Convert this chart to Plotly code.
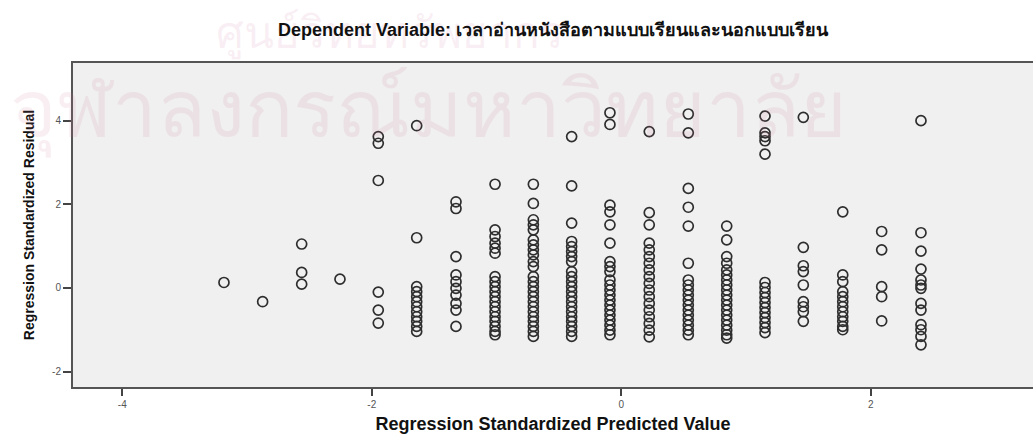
import plotly.graph_objects as go

# Discrete predicted-value columns (x) and residuals read per column
pred_x = [-3.185, -2.875, -2.562, -2.255, -1.948, -1.640, -1.325, -1.012, -0.705,
          -0.398, -0.091, 0.224, 0.537, 0.845, 1.152, 1.459, 1.775, 2.087, 2.402]

res_c01 = [0.13]
res_c02 = [-0.33]
res_c03 = [1.05, 0.37, 0.09]
res_c04 = [0.21]
res_c05 = [3.62, 3.46, 2.57, -0.10, -0.53, -0.84]
res_c06 = [3.88, 1.20, 0.03, -0.09, -0.21, -0.33, -0.45, -0.57, -0.69, -0.80, -0.92, -1.04]
res_c07 = [2.06, 1.90, 0.75, 0.31, 0.15, -0.01, -0.17, -0.37, -0.53, -0.92]
res_c08 = [2.48, 1.39, 1.23, 1.07, 0.95, 0.83, 0.27, 0.15, 0.03, -0.09, -0.21, -0.33,
           -0.45, -0.57, -0.69, -0.80, -0.92, -1.04, -1.12]
res_c09 = [2.48, 2.02, 1.63, 1.51, 1.39, 1.15, 1.03, 0.91, 0.79, 0.63, 0.51, 0.27, 0.15,
           0.03, -0.09, -0.21, -0.33, -0.45, -0.57, -0.69, -0.80, -0.92, -1.04, -1.16]
res_c10 = [3.62, 2.44, 1.55, 1.11, 0.99, 0.87, 0.75, 0.63, 0.39, 0.27, 0.15, 0.03, -0.09,
           -0.21, -0.33, -0.45, -0.57, -0.69, -0.80, -0.92, -1.04, -1.16]
res_c11 = [4.19, 3.91, 1.98, 1.82, 1.51, 1.07, 0.63, 0.51, 0.39, 0.19, 0.07, -0.05, -0.17,
           -0.29, -0.41, -0.53, -0.65, -0.77, -0.89, -1.01, -1.12]
res_c12 = [3.74, 1.80, 1.51, 1.07, 0.91, 0.75, 0.59, 0.43, 0.27, 0.11, -0.05, -0.21,
           -0.37, -0.53, -0.69, -0.85, -1.01, -1.17]
res_c13 = [4.16, 3.71, 2.38, 1.93, 1.48, 0.59, 0.19, 0.07, -0.05, -0.17, -0.29, -0.41,
           -0.53, -0.65, -0.77, -0.89, -1.01, -1.12]
res_c14 = [1.48, 1.15, 0.75, 0.59, 0.43, 0.31, 0.19, 0.07, -0.05, -0.17, -0.29, -0.41,
           -0.53, -0.65, -0.77, -0.89, -1.01, -1.12, -1.20]
res_c15 = [4.11, 3.71, 3.62, 3.52, 3.20, 0.13, 0.01, -0.11, -0.23, -0.35, -0.47, -0.59,
           -0.71, -0.83, -0.95, -1.07]
res_c16 = [4.08, 0.97, 0.53, 0.39, 0.07, -0.33, -0.45, -0.57, -0.80]
res_c17 = [1.82, 0.31, 0.15, -0.09, -0.21, -0.33, -0.45, -0.57, -0.69, -0.80, -0.92, -1.00]
res_c18 = [1.35, 0.91, 0.03, -0.21, -0.79]
res_c19 = [4.00, 1.32, 0.88, 0.45, 0.19, 0.07, -0.01, -0.37, -0.53, -0.88, -1.00, -1.16, -1.36]

residual_columns = [res_c01, res_c02, res_c03, res_c04, res_c05, res_c06, res_c07, res_c08,
                    res_c09, res_c10, res_c11, res_c12, res_c13, res_c14, res_c15, res_c16,
                    res_c17, res_c18, res_c19]

x_ticks = [-4, -2, 0, 2]
y_ticks = [-2, 0, 2, 4]

title_text = "Dependent Variable: เวลาอ่านหนังสือตามแบบเรียนและนอกแบบเรียน"
x_title = "Regression Standardized Predicted Value"
y_title = "Regression Standardized Residual"
watermark_1 = "ศูนย์วิทยทรัพยากร"
watermark_2 = "จุฬาลงกรณ์มหาวิทยาลัย"

xs, ys = [], []
for px, col in zip(pred_x, residual_columns):
    for r in col:
        xs.append(px)
        ys.append(r)

fig = go.Figure()
fig.add_trace(go.Scatter(
    x=xs, y=ys, mode="markers",
    marker=dict(symbol="circle-open", size=10, color="#2e2e2e", line=dict(width=1.7)),
    showlegend=False, hoverinfo="x+y",
))

font_main = "Liberation Sans, Arial, sans-serif"
wm_color = "rgba(205,120,160,0.12)"

fig.update_layout(
    width=1033, height=438,
    margin=dict(l=73, r=0, t=63, b=51),
    paper_bgcolor="white",
    plot_bgcolor="#f0f0f0",
    font=dict(family=font_main, color="#222"),
    xaxis=dict(
        range=[-4.395, 3.30], tickvals=x_ticks, ticktext=[str(v) for v in x_ticks],
        showgrid=False, zeroline=False, showline=True, linecolor="#555", linewidth=2,
        mirror=True, ticks="outside", ticklen=7, tickwidth=2, tickcolor="#444",
        tickfont=dict(size=10, color="#555"),
        title=dict(text="<b>" + x_title + "</b>", font=dict(size=18, color="#111"), standoff=8),
    ),
    yaxis=dict(
        range=[-2.37, 5.38], tickvals=y_ticks, ticktext=[str(v) for v in y_ticks],
        showgrid=False, zeroline=False, showline=True, linecolor="#555", linewidth=2,
        mirror=False, ticks="outside", ticklen=8, tickwidth=1.5, tickcolor="#444",
        tickfont=dict(size=10, color="#555"),
        title=dict(text="<b>" + y_title + "</b>", font=dict(size=14, color="#111"), standoff=14),
    ),
    annotations=[
        dict(text=watermark_1, xref="paper", yref="paper", x=0.33, y=1.0, yshift=29,
             showarrow=False, font=dict(size=44, color=wm_color),
             xanchor="center", yanchor="middle"),
        dict(text=watermark_2, xref="paper", yref="paper", x=0.37, y=0.85,
             showarrow=False, font=dict(size=80, color=wm_color),
             xanchor="center", yanchor="middle"),
        dict(text="<b>" + title_text + "</b>", xref="paper", yref="paper",
             x=0.5, y=1.0, yshift=33, showarrow=False,
             font=dict(size=18, color="#111", family=font_main),
             xanchor="center", yanchor="middle"),
    ],
)

fig.write_html("out.html", config={"displayModeBar": False},
               post_script="document.body.style.margin='0';")
